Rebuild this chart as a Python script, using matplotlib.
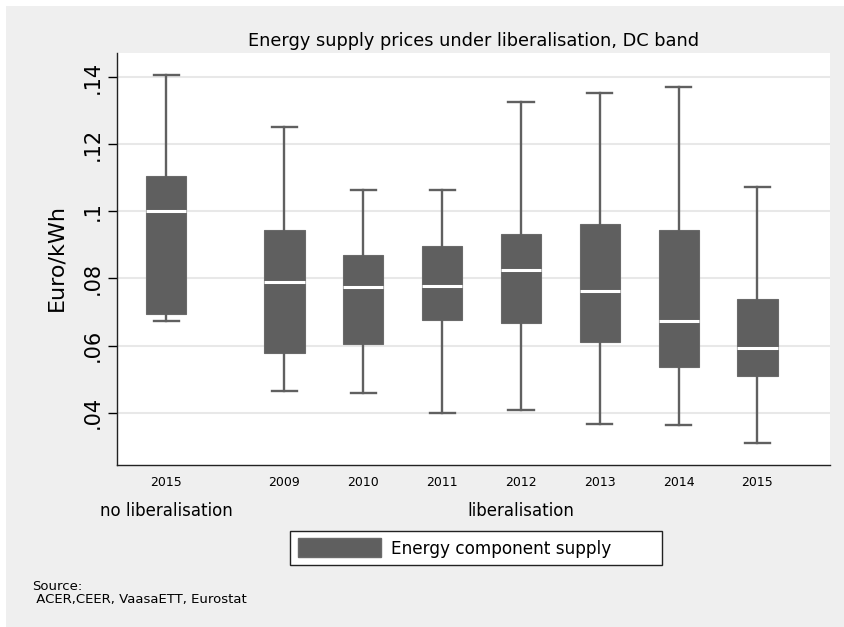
import matplotlib.pyplot as plt
import matplotlib.transforms as mtransforms
from matplotlib.patches import Patch, Rectangle

# box plot summaries (Euro/kWh)
years = ['2015', '2009', '2010', '2011', '2012', '2013', '2014', '2015']
groups = ['no liberalisation', 'liberalisation']
group_of = [0, 1, 1, 1, 1, 1, 1, 1]
whis_lo = [0.0672, 0.0465, 0.0458, 0.0400, 0.0407, 0.0366, 0.0364, 0.0311]
q1 = [0.0695, 0.0579, 0.0605, 0.0677, 0.0667, 0.0612, 0.0535, 0.0510]
median = [0.1002, 0.0790, 0.0776, 0.0779, 0.0826, 0.0764, 0.0674, 0.0594]
q3 = [0.1104, 0.0943, 0.0870, 0.0897, 0.0934, 0.0962, 0.0943, 0.0738]
whis_hi = [0.1407, 0.1251, 0.1064, 0.1064, 0.1327, 0.1352, 0.1370, 0.1072]
yticks = [0.04, 0.06, 0.08, 0.10, 0.12, 0.14]

W, H = 845, 627
box_col = '#5f5f5f'
bg = '#efefef'

# extra gap between the two groups
pos = []
p = 0.0
for i, g in enumerate(group_of):
    if i > 0:
        p += 1.5 if g != group_of[i - 1] else 1.0
    pos.append(p)

fig = plt.figure(figsize=(W / 100, H / 100), dpi=100, facecolor='white')
fig.patches.append(Rectangle((6 / W, -0.01), 1.02, 1.01 - 6 / H, transform=fig.transFigure,
                             facecolor=bg, edgecolor='none', zorder=-10))

ax = fig.add_axes([117.3 / W, 1 - 465 / H, (830 - 117.3) / W, (465 - 53) / H])
ax.set_facecolor('white')

stats = [dict(whislo=a, q1=b, med=c, q3=d, whishi=e, label=y)
         for a, b, c, d, e, y in zip(whis_lo, q1, median, q3, whis_hi, years)]
ax.bxp(stats, positions=pos, widths=0.51, capwidths=0.32, patch_artist=True,
       showfliers=False,
       boxprops=dict(facecolor=box_col, edgecolor='#6a6a6a', linewidth=0.8),
       medianprops=dict(color='white', linewidth=2.2),
       whiskerprops=dict(color='#606060', linewidth=1.7),
       capprops=dict(color='#606060', linewidth=1.7))

ax.set_xlim(-0.62, 8.42)
ax.set_ylim(0.0244, 0.1472)
ax.set_yticks(yticks)
ax.set_yticklabels([f'{v:.2f}'.lstrip('0').rstrip('0') for v in yticks])
ax.grid(axis='y', color='#e8e8e8', linewidth=1.5)
ax.set_axisbelow(True)
for s in ['top', 'right']:
    ax.spines[s].set_visible(False)
for s in ['left', 'bottom']:
    ax.spines[s].set_linewidth(1.0)
    ax.spines[s].set_color('#222222')
ax.tick_params(axis='y', labelrotation=90, labelsize=15, length=6.5, width=1, pad=4)
ax.tick_params(axis='x', length=0, labelsize=9, pad=8)
for lab in ax.get_yticklabels():
    lab.set_va('center')

fig.text(56 / W, 1 - 258 / H, 'Euro/kWh', rotation=90, ha='center', va='center', fontsize=16)
fig.text(473.5 / W, 1 - 41 / H, 'Energy supply prices under liberalisation, DC band',
         ha='center', va='center', fontsize=12.8)

# group labels centred under their boxes
tr = mtransforms.blended_transform_factory(ax.transData, fig.transFigure)
for gi, name in enumerate(groups):
    xs = [x for x, g in zip(pos, group_of) if g == gi]
    ax.text((min(xs) + max(xs)) / 2, 1 - 511 / H, name, transform=tr,
            ha='center', va='center', fontsize=12)

leg = fig.legend(handles=[Patch(facecolor=box_col, edgecolor='#6a6a6a', label='Energy component supply')],
                 loc='center', bbox_to_anchor=(290 / W, 1 - 566 / H, 372 / W, 36 / H), mode='expand',
                 frameon=True, fancybox=False, edgecolor='#222222', facecolor='white', framealpha=1,
                 fontsize=12.2, handlelength=4.9, handleheight=1.35, handletextpad=0.6,
                 borderpad=0.45, borderaxespad=0)
leg.get_frame().set_linewidth(1.0)

fig.text(32 / W, 1 - 593 / H, 'Source:\n ACER,CEER, VaasaETT, Eurostat',
         ha='left', va='center', fontsize=9.5, linespacing=1.05)

fig.savefig('out.png', dpi=100, facecolor=fig.get_facecolor())
